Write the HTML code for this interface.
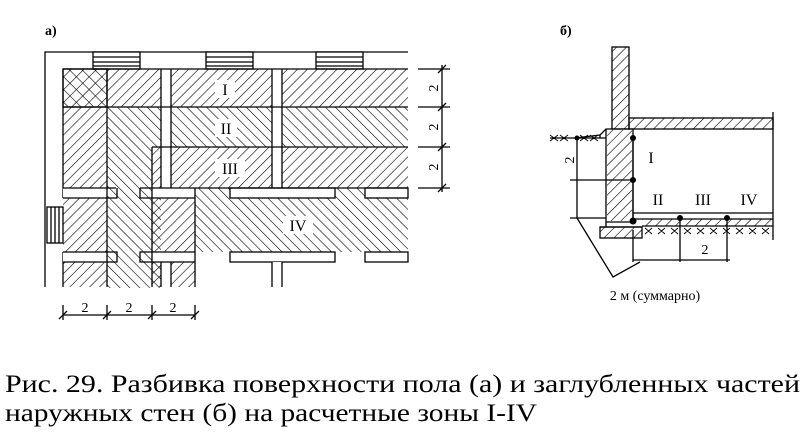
<!DOCTYPE html>
<html><head><meta charset="utf-8"><style>
html,body{margin:0;padding:0;background:#fff;}
svg{display:block;}
text{font-family:"Liberation Serif",serif;fill:#000;}
</style></head><body>
<svg width="809" height="444" viewBox="0 0 809 444" xmlns="http://www.w3.org/2000/svg">
<defs>
<pattern id="f" width="7" height="7" patternUnits="userSpaceOnUse" patternTransform="rotate(45)"><line x1="0" y1="0" x2="0" y2="7" stroke="#000" stroke-width="1.2"/></pattern>
<pattern id="b" width="7" height="7" patternUnits="userSpaceOnUse" patternTransform="rotate(-45)"><line x1="0" y1="0" x2="0" y2="7" stroke="#000" stroke-width="1.2"/></pattern>
<pattern id="x" width="9" height="9" patternUnits="userSpaceOnUse" patternTransform="rotate(45)"><line x1="0" y1="0" x2="0" y2="9" stroke="#000" stroke-width="1.2"/><line x1="0" y1="0" x2="9" y2="0" stroke="#000" stroke-width="1.2"/></pattern>
</defs>
<g stroke="#000" stroke-width="1.3" fill="none">
<path d="M408,52 H45 V287"/>
<path d="M63,287 V252 M63,198 V69"/>
<g fill="#fff">
<rect x="93" y="52" width="47" height="17"/><rect x="206" y="52" width="47" height="17"/><rect x="316" y="52" width="47" height="17"/>
</g>
<path d="M93,57H140M93,62H140M93,66H140M206,57H253M206,62H253M206,66H253M316,57H363M316,62H363M316,66H363"/>
<rect x="47" y="207" width="16" height="36" fill="#fff"/>
<path d="M51,207V243M55,207V243M59,207V243"/>
<rect x="63" y="69" width="44" height="38" fill="url(#x)"/>
<rect x="107" y="69" width="54" height="38" fill="url(#f)" stroke="none"/>
<rect x="171" y="69" width="101" height="38" fill="url(#f)" stroke="none"/>
<rect x="282" y="69" width="126" height="38" fill="url(#f)" stroke="none"/>
<rect x="63" y="107" width="44" height="81" fill="url(#f)" stroke="none"/>
<rect x="107" y="107" width="54" height="181" fill="url(#b)" stroke="none"/>
<rect x="171" y="107" width="101" height="40" fill="url(#b)" stroke="none"/>
<rect x="282" y="107" width="126" height="40" fill="url(#b)" stroke="none"/>
<rect x="171" y="147" width="101" height="41" fill="url(#f)" stroke="none"/>
<rect x="282" y="147" width="126" height="41" fill="url(#f)" stroke="none"/>
<rect x="152" y="147" width="9" height="41" fill="#fff" stroke="none"/>
<rect x="152" y="147" width="9" height="41" fill="url(#f)" stroke="none"/>
<rect x="63" y="198" width="44" height="54" fill="url(#f)" stroke="none"/>
<rect x="152" y="198" width="43" height="54" fill="url(#f)" stroke="none"/>
<rect x="195" y="188" width="213" height="64" fill="url(#b)" stroke="none"/>
<rect x="63" y="262" width="44" height="25" fill="url(#f)" stroke="none"/>
<rect x="152" y="262" width="9" height="25" fill="url(#f)" stroke="none"/>
<rect x="171" y="262" width="24" height="25" fill="url(#f)" stroke="none"/>
<rect x="63" y="188" width="44" height="10" fill="#fff" stroke="none"/>
<rect x="152" y="188" width="43" height="10" fill="#fff" stroke="none"/>
<rect x="63" y="252" width="44" height="10" fill="#fff" stroke="none"/>
<rect x="152" y="252" width="43" height="10" fill="#fff" stroke="none"/>
<rect x="161" y="69" width="10" height="119" fill="#fff" stroke="none"/>
<rect x="272" y="69" width="10" height="119" fill="#fff" stroke="none"/>
<rect x="161" y="262" width="10" height="25" fill="#fff" stroke="none"/>
<rect x="230" y="188" width="105" height="10" fill="#fff" stroke="#000"/>
<rect x="365" y="188" width="43" height="10" fill="#fff" stroke="#000"/>
<rect x="230" y="252" width="105" height="10" fill="#fff" stroke="#000"/>
<rect x="365" y="252" width="43" height="10" fill="#fff" stroke="#000"/>
<rect x="272" y="262" width="10" height="25" fill="#fff" stroke="none"/>
<path d="M272,262V287M282,262V287"/>
<path d="M63,69H408M63,107H408M152,147H408M63,188H116M140,188H408"/>
<path d="M107,69V287M152,147V287M161,69V188M171,69V188M272,69V188M282,69V188M195,188V287M161,262V287M171,262V287"/>
<path d="M63,198H117V188M63,252H117V262H63M152,198H140V188M152,252H140V262H152"/>
<path d="M152,198H195M152,252H195M152,262H195"/>
<path d="M418,69H450M418,107H450M418,147H450M418,188H450M442,65V192"/>
<path d="M438,73L446,65M438,111L446,103M438,151L446,143M438,192L446,184"/>
<path d="M63,315H195M63,305V320M107,305V320M152,305V320M195,305V320"/>
<path d="M59,319L67,311M103,319L111,311M148,319L156,311M191,319L199,311"/>
<rect x="612" y="47" width="17" height="82" fill="url(#f)"/>
<path d="M606,129V222H633V129H606M612,129H606L600,135V138" fill="none"/>
<rect x="607" y="130" width="25" height="91" fill="url(#f)" stroke="none"/>
<rect x="600" y="227" width="42" height="11" fill="url(#f)"/>
<path d="M606,222V227M600,227H642"/>
<rect x="629" y="118" width="144" height="11" fill="url(#f)"/>
<path d="M773,112V240"/>
<path d="M550,138H606M575,138L600,135"/>
<path d="M550,135L558,141M558,135L550,141M560,135L568,141M568,135L560,141M580,135L588,141M588,135L580,141M590,135L598,141M598,135L590,141" stroke-width="0.9"/>
<path d="M633,138V222M633,213H773M633,219H773M642,226H773"/>
<rect x="642" y="219" width="131" height="7" fill="url(#f)" stroke="none"/>
<path d="M645,228L652,234M652,228L645,234M658,228L665,234M665,228L658,234M671,228L678,234M678,228L671,234M684,228L691,234M691,228L684,234M697,228L704,234M704,228L697,234M710,228L717,234M717,228L710,234M723,228L730,234M730,228L723,234M736,228L743,234M743,228L736,234M749,228L756,234M756,228L749,234M762,228L769,234M769,228L762,234" stroke-width="0.9"/>
<path d="M577,138V218M570,180H633M570,218H606"/>
<path d="M633,230V262M680,219V262M727,219V262M633,260H730"/>
<path d="M577,218L613,277L640,262"/>
</g>
<g fill="#000">
<circle cx="633" cy="138" r="3"/><circle cx="633" cy="180" r="3"/><circle cx="633" cy="221" r="3.5"/>
<circle cx="680" cy="218" r="3"/><circle cx="727" cy="218" r="3"/><circle cx="577" cy="138" r="2.5"/>
</g>
<g font-size="14" font-weight="bold">
<text x="45" y="35">а)</text>
<text x="560" y="35">б)</text>
</g>
<g font-size="16" text-anchor="middle">
<rect x="215" y="80" width="20" height="18" fill="#fff"/><text x="225" y="95">I</text>
<rect x="215" y="119" width="22" height="18" fill="#fff"/><text x="226" y="134">II</text>
<rect x="215" y="159" width="30" height="18" fill="#fff"/><text x="230" y="174">III</text>
<rect x="283" y="216" width="30" height="18" fill="#fff"/><text x="298" y="231">IV</text>
<text x="651" y="163">I</text><text x="658" y="205">II</text><text x="703" y="205">III</text><text x="749" y="205">IV</text>
<text x="705" y="254" font-size="14">2</text>
<text x="85" y="312" font-size="14">2</text><text x="129" y="312" font-size="14">2</text><text x="173" y="312" font-size="14">2</text>
<text transform="translate(438,88) rotate(-90)" font-size="14">2</text>
<text transform="translate(438,127) rotate(-90)" font-size="14">2</text>
<text transform="translate(438,167) rotate(-90)" font-size="14">2</text>
<text transform="translate(574,160) rotate(-90)" font-size="14">2</text>
<text x="655" y="300" font-size="14">2 м (суммарно)</text>
</g>
<text x="5" y="392" font-size="25" textLength="795" lengthAdjust="spacingAndGlyphs">Рис. 29. Разбивка поверхности пола (а) и заглубленных частей</text>
<text x="5" y="421" font-size="25" textLength="532" lengthAdjust="spacingAndGlyphs">наружных стен (б) на расчетные зоны I-IV</text>
</svg>
</body></html>
